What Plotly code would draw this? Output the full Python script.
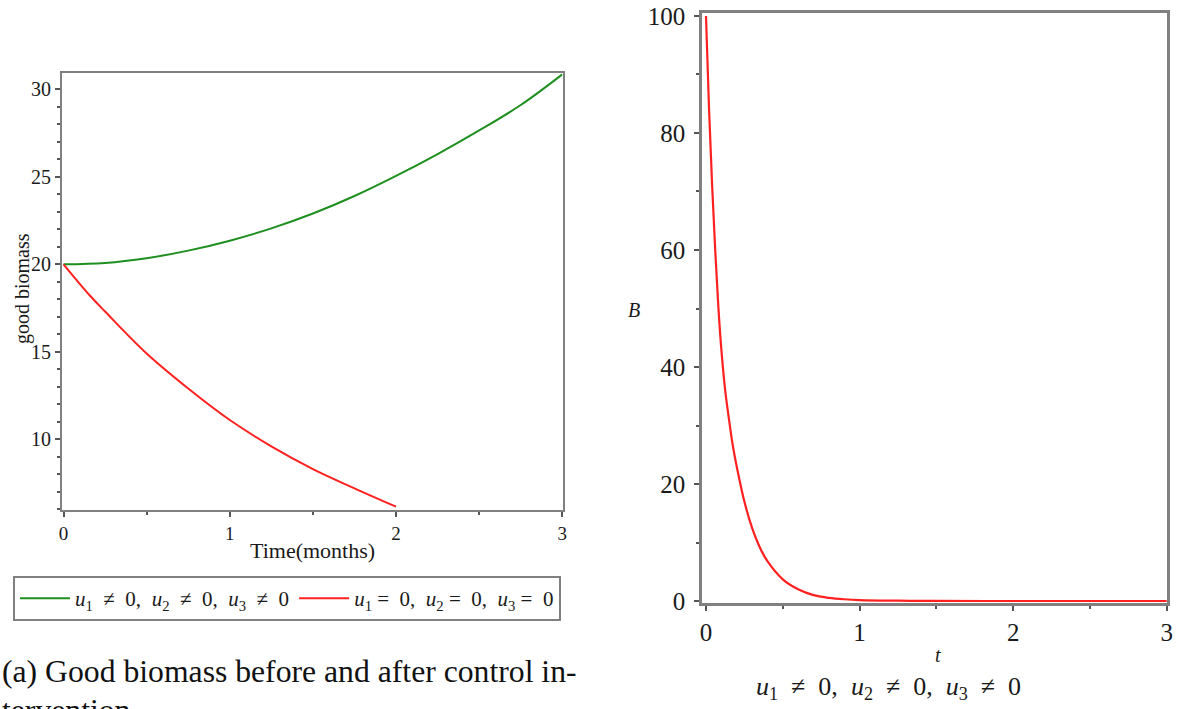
import plotly.graph_objects as go

W, H = 1177, 709

# Left panel data: good biomass vs time (months)
t_green = [0, 0.25, 0.5, 0.75, 1.0, 1.25, 1.5, 1.75, 2.0, 2.25, 2.5, 2.75, 3.0]
b_green = [20.0, 20.08, 20.35, 20.78, 21.35, 22.05, 22.9, 23.9, 25.05, 26.3, 27.65, 29.1, 30.85]
t_red = [0, 0.16, 0.25, 0.5, 0.75, 1.0, 1.25, 1.5, 1.75, 2.0]
b_red = [20.0, 18.2, 17.3, 14.9, 12.9, 11.1, 9.6, 8.3, 7.2, 6.15]

# Right panel data: B vs t
t_b = [0, 0.02, 0.04, 0.06, 0.08, 0.1, 0.125, 0.15, 0.175, 0.2, 0.25, 0.3, 0.35, 0.4, 0.5, 0.6, 0.7, 0.8, 0.9, 1.0, 1.25, 1.5, 2.0, 2.5, 3.0]
b_b = [100, 84, 71, 60, 50.5, 43, 36, 31, 26.5, 23, 17, 12.5, 9.2, 6.8, 3.7, 2.0, 1.0, 0.55, 0.3, 0.15, 0.05, 0.02, 0.0, 0.0, 0.0]

left_xticks = [0, 1, 2, 3]
left_yticks = [10, 15, 20, 25, 30]
right_xticks = [0, 1, 2, 3]
right_yticks = [0, 20, 40, 60, 80, 100]

SP = "\u2002"
leg1 = f"<i>u</i><sub>1</sub>{SP}≠{SP}0,{SP}<i>u</i><sub>2</sub>{SP}≠{SP}0,{SP}<i>u</i><sub>3</sub>{SP}≠{SP}0"
leg2 = f"<i>u</i><sub>1</sub> ={SP}0,{SP}<i>u</i><sub>2</sub> ={SP}0,{SP}<i>u</i><sub>3</sub> ={SP}0"

SERIF = "Liberation Serif"
GRAY = "#808080"
TXT = "#1a1a1a"

def px_x(p):
    return p / W

def px_y(p):
    return 1 - p / H

fig = go.Figure()
fig.add_trace(go.Scatter(x=t_green, y=b_green, mode="lines", line=dict(color="#1f8f1f", width=2, shape="spline"),
                         name=leg1, xaxis="x", yaxis="y"))
fig.add_trace(go.Scatter(x=t_red, y=b_red, mode="lines", line=dict(color="#ff2020", width=2, shape="spline"),
                         name=leg2, xaxis="x", yaxis="y"))
fig.add_trace(go.Scatter(x=t_b, y=b_b, mode="lines", line=dict(color="#ff2020", width=2.2, shape="spline"),
                         showlegend=False, xaxis="x2", yaxis="y2"))

axcommon = dict(showgrid=False, zeroline=False, showline=True, mirror=True, linecolor=GRAY,
                ticks="outside", tickcolor="#555555", ticklen=5, tickwidth=1.5, automargin=False)

fig.update_layout(
    template="none",
    width=W, height=H, margin=dict(l=0, r=0, t=0, b=0, pad=0, autoexpand=False),
    paper_bgcolor="white", plot_bgcolor="white",
    font=dict(family=SERIF, color=TXT),
    xaxis=dict(domain=[px_x(62), px_x(562.5)], range=[-0.009, 3.001], tickvals=left_xticks,
               tickfont=dict(size=19, family=SERIF, color=TXT), linewidth=2,
               minor=dict(dtick=0.5, ticks="outside", ticklen=3, tickcolor="#555555"),
               anchor="y", **axcommon),
    yaxis=dict(domain=[px_y(510), px_y(73)], range=[5.96, 30.93], tickvals=left_yticks,
               tickfont=dict(size=20, family=SERIF, color=TXT), linewidth=2,
               minor=dict(dtick=1, ticks="outside", ticklen=3, tickcolor="#555555"),
               anchor="x", **axcommon),
    xaxis2=dict(domain=[px_x(702), px_x(1167)], range=[-0.026, 3.002], tickvals=right_xticks,
                tickfont=dict(size=25, family=SERIF, color=TXT), linewidth=2.5,
                minor=dict(dtick=0.5, ticks="outside", ticklen=3, tickcolor="#555555"),
                anchor="y2", **axcommon),
    yaxis2=dict(domain=[px_y(603), px_y(13)], range=[-0.34, 100.51], tickvals=right_yticks,
                tickfont=dict(size=25, family=SERIF, color=TXT), linewidth=2.5, ticklabelstandoff=4,
                minor=dict(dtick=10, ticks="outside", ticklen=3, tickcolor="#555555"),
                anchor="x2", **axcommon),
    legend=dict(orientation="h", x=px_x(13), xanchor="left", y=px_y(576), yanchor="top",
                bordercolor=GRAY, borderwidth=2, bgcolor="white", itemwidth=50,
                font=dict(family=SERIF, size=21, color=TXT), tracegroupgap=0),
    showlegend=True,
)

ann = [
    dict(text="Time(months)", x=px_x(312), y=px_y(550), xanchor="center", yanchor="middle",
         font=dict(size=22, family=SERIF, color=TXT)),
    dict(text="good biomass", x=px_x(22), y=px_y(289), textangle=-90, xanchor="center", yanchor="middle",
         font=dict(size=20, family=SERIF, color=TXT)),
    dict(text="<i>B</i>", x=px_x(634), y=px_y(310), xanchor="center", yanchor="middle",
         font=dict(size=20, family=SERIF, color=TXT)),
    dict(text="<i>t</i>", x=px_x(938), y=px_y(655), xanchor="center", yanchor="middle",
         font=dict(size=20, family=SERIF, color=TXT)),
    dict(text=leg1, x=px_x(888), y=px_y(688), xanchor="center", yanchor="middle",
         font=dict(size=26, family=SERIF, color=TXT)),
    dict(text="(a) Good biomass before and after control in-", x=0, y=px_y(671), xanchor="left", yanchor="middle",
         font=dict(size=31.7, family=SERIF, color="#111111")),
    dict(text="tervention", x=0, y=px_y(691), xanchor="left", yanchor="top",
         font=dict(size=31.7, family=SERIF, color="#111111")),
]
for a in ann:
    a.update(xref="paper", yref="paper", showarrow=False)
fig.update_layout(annotations=ann)

fig.write_html("out.html", config={"displayModeBar": False},
               post_script="document.body.style.margin='0';document.body.style.padding='0';")
